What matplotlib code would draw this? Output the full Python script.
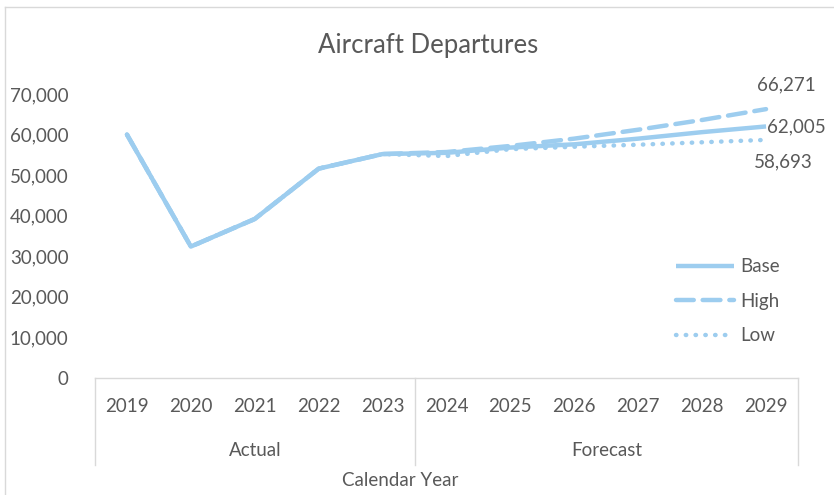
import matplotlib
matplotlib.use("Agg")
import matplotlib.pyplot as plt
from matplotlib.lines import Line2D
import matplotlib.transforms as mtransforms

plt.rcParams['font.family'] = ['Lato', 'DejaVu Sans']

years = ["2019", "2020", "2021", "2022", "2023", "2024", "2025", "2026", "2027", "2028", "2029"]
groups = ["Actual", "Forecast"]
group_sizes = [5, 6]

base = [60000, 32400, 39200, 51600, 55200, 55500, 56800, 57600, 59000, 60600, 62005]
high = [60000, 32400, 39200, 51600, 55200, 55700, 57200, 59000, 61200, 63600, 66271]
low = [60000, 32400, 39200, 51600, 55200, 54700, 56400, 57000, 57500, 58100, 58693]

yticks = [0, 10000, 20000, 30000, 40000, 50000, 60000, 70000]

LINE = "#9DCDEF"
TXT = "#595959"
AXC = "#D9D9D9"

W, H = 834, 495
fig = plt.figure(figsize=(W / 100, H / 100), dpi=100)
L, R, T, B = 95, 798, 94, 378
ax = fig.add_axes([L / W, 1 - B / H, (R - L) / W, (B - T) / H])

x = list(range(len(years)))
lw = 3.2
ax.plot(x, base, color=LINE, lw=lw, solid_capstyle="butt", label="Base")
ax.plot(x, high, color=LINE, lw=lw, dashes=(4, 2), dash_capstyle="round", label="High")
ax.plot(x, low, color=LINE, lw=lw, dashes=(0.1, 2.1), dash_capstyle="round", label="Low")

ax.set_xlim(-0.5, len(years) - 0.5)
ax.set_ylim(0, 70000)
ax.set_yticks(yticks)
ax.set_yticklabels([f"{v:,}" for v in yticks])
ax.tick_params(axis="y", length=0, pad=19, labelsize=13.5, labelcolor=TXT)
ax.set_xticks([])
for s in ax.spines.values():
    s.set_visible(False)

# category axis: baseline, year labels, group labels and separators
trans = mtransforms.blended_transform_factory(ax.transData, ax.transAxes)
ph = B - T
ax.plot([-0.5, len(years) - 0.5], [0, 0], transform=trans, color=AXC, lw=1, clip_on=False)
sep_bottom = -(465 - B) / ph
edges = [-0.5]
for n in group_sizes:
    edges.append(edges[-1] + n)
for e in edges:
    ax.plot([e, e], [0, sep_bottom], transform=trans, color=AXC, lw=1, clip_on=False)
for i, yr in enumerate(years):
    ax.text(i, -(407 - B) / ph, yr, transform=trans, ha="center", va="center",
            fontsize=13.5, color=TXT)
for g, a, b in zip(groups, edges[:-1], edges[1:]):
    ax.text((a + b) / 2, -(451 - B) / ph, g, transform=trans, ha="center", va="center",
            fontsize=13.5, color=TXT)
fig.text(400 / W, 1 - 481 / H, "Calendar Year", ha="center", va="center",
         fontsize=13.5, color=TXT)

# end-of-series value labels
last = len(years) - 1
ax.annotate(f"{high[-1]:,}", (last, high[-1]), xytext=(20, 24), textcoords="offset pixels",
            ha="center", va="center", fontsize=13.5, color=TXT, annotation_clip=False)
ax.annotate(f"{base[-1]:,}", (last, base[-1]), xytext=(1, 0), textcoords="offset pixels",
            ha="left", va="center", fontsize=13.5, color=TXT, annotation_clip=False)
ax.annotate(f"{low[-1]:,}", (last, low[-1]), xytext=(17, -22), textcoords="offset pixels",
            ha="center", va="center", fontsize=13.5, color=TXT, annotation_clip=False)

leg = ax.legend(loc="upper left", bbox_to_anchor=((668 - L) / (R - L), 1 - (251 - T) / ph),
                frameon=False, fontsize=13.5, handlelength=3.1, handletextpad=0.35,
                labelspacing=0.93, borderaxespad=0)
for t in leg.get_texts():
    t.set_color(TXT)

fig.text(428 / W, 1 - 46 / H, "Aircraft Departures", ha="center", va="center",
         fontsize=18.5, color=TXT)

# chart area border
fig.add_artist(Line2D([5 / W, 1], [1 - 7 / H, 1 - 7 / H], transform=fig.transFigure,
                      color=AXC, lw=1))
fig.add_artist(Line2D([5 / W, 5 / W], [0, 1 - 7 / H], transform=fig.transFigure,
                      color=AXC, lw=1))

fig.savefig("out.png", dpi=100, facecolor="white")
